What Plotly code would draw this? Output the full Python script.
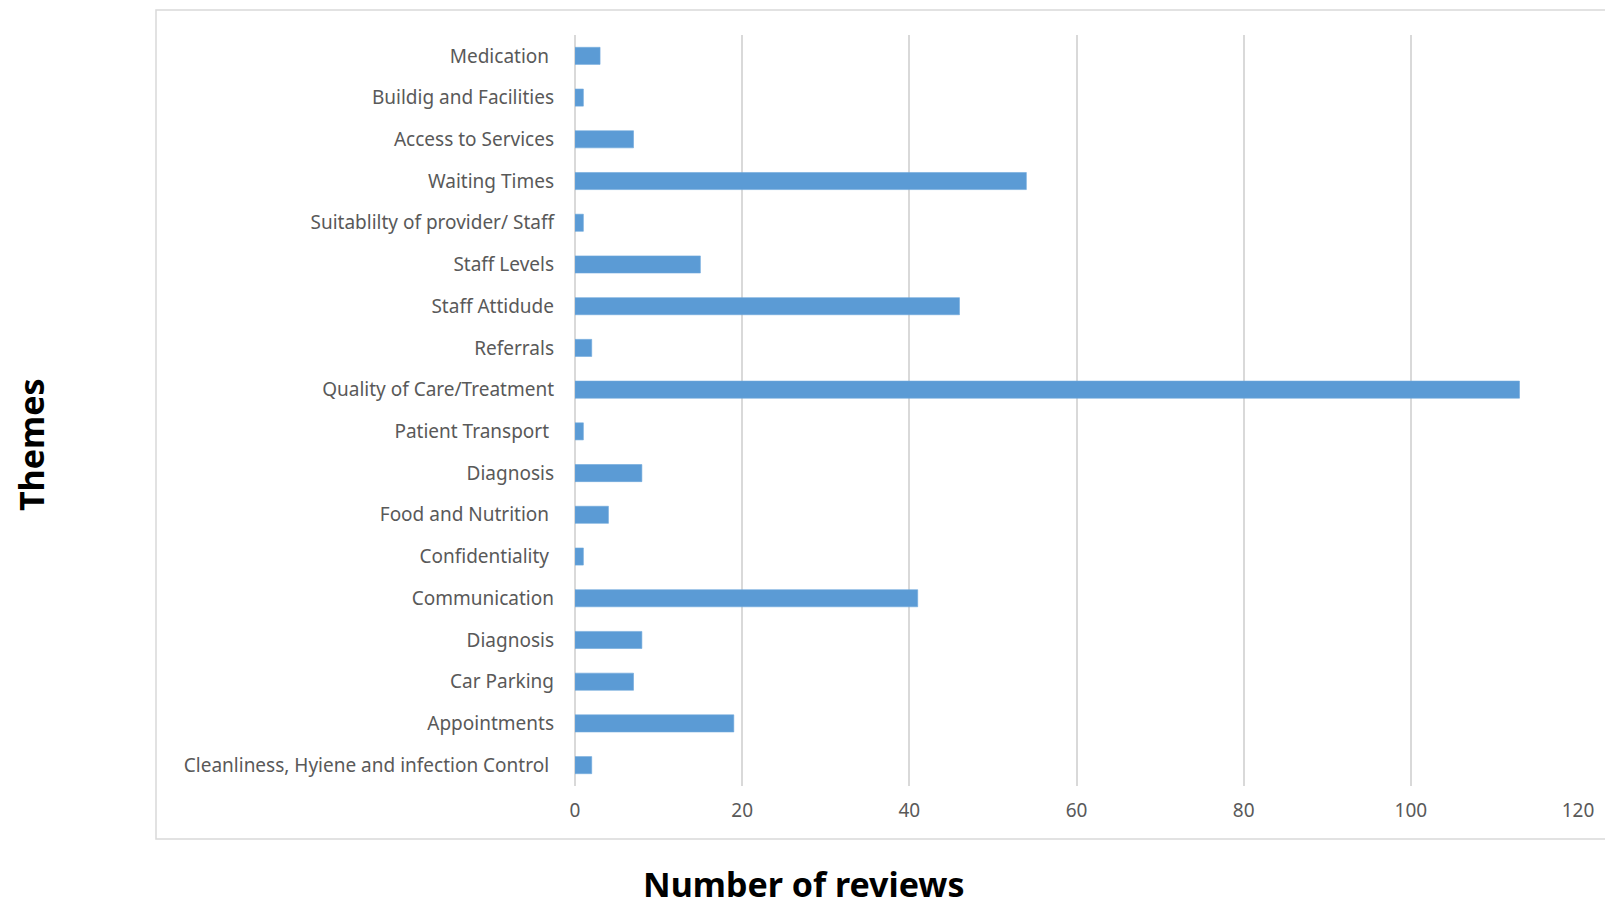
import plotly.graph_objects as go

# Review themes, listed top to bottom
themes = [
    "Medication\u00a0",
    "Buildig and Facilities",
    "Access to Services",
    "Waiting Times",
    "Suitablilty of provider/ Staff",
    "Staff Levels",
    "Staff Attidude",
    "Referrals",
    "Quality of Care/Treatment",
    "Patient Transport\u00a0",
    "Diagnosis",
    "Food and Nutrition\u00a0",
    "Confidentiality\u00a0",
    "Communication",
    "Diagnosis",
    "Car Parking",
    "Appointments",
    "Cleanliness, Hyiene and infection Control\u00a0",
]
reviews = [3, 1, 7, 54, 1, 15, 46, 2, 113, 1, 8, 4, 1, 41, 8, 7, 19, 2]
x_ticks = [0, 20, 40, 60, 80, 100, 120]

W, H = 1605, 906
L, R, T, B = 575, 27, 35, 120

# numeric positions so repeated theme names keep their own rows
pos = list(range(len(themes)))

fig = go.Figure(
    go.Bar(
        x=reviews,
        y=pos,
        orientation="h",
        marker=dict(color="#5B9BD5", line=dict(color="#6FA8DC", width=0.6)),
        hoverinfo="x+text",
        text=themes,
        textposition="none",
    )
)

font_lbl = dict(family="Noto Sans, Open Sans, sans-serif", size=19, color="#595959")

fig.update_layout(
    width=W,
    height=H,
    margin=dict(l=L, r=R, t=T, b=B),
    paper_bgcolor="white",
    plot_bgcolor="white",
    bargap=0.59,
    showlegend=False,
    font=font_lbl,
)

fig.update_xaxes(
    range=[0, 120],
    tickvals=x_ticks,
    showgrid=True,
    gridcolor="#D9D9D9",
    gridwidth=1.5,
    zeroline=True,
    zerolinecolor="#D9D9D9",
    zerolinewidth=1.5,
    showline=False,
    tickfont=font_lbl,
    ticklabelstandoff=11,
    fixedrange=True,
)

fig.update_yaxes(
    range=[len(themes) - 0.5, -0.5],
    tickvals=pos,
    ticktext=themes,
    showgrid=False,
    zeroline=False,
    showline=False,
    tickfont=font_lbl,
    ticklabelstandoff=20,
    fixedrange=True,
)

pw, ph = W - L - R, H - T - B


def px_x(x):
    return (x - L) / pw


def px_y(y):
    return (H - B - y) / ph


# outer chart frame
fig.add_shape(
    type="rect",
    xref="paper", yref="paper",
    x0=px_x(156), x1=px_x(1620), y0=px_y(839), y1=px_y(10),
    line=dict(color="#D9D9D9", width=1.5),
    fillcolor="rgba(0,0,0,0)",
    layer="below",
)

title_font = dict(family="Noto Sans, Open Sans, sans-serif", size=34, color="black")
fig.add_annotation(
    text="<b>Number of reviews</b>",
    xref="paper", yref="paper",
    x=px_x(803), y=px_y(884),
    showarrow=False, font=title_font,
    xanchor="center", yanchor="middle",
)
fig.add_annotation(
    text="<b>Themes</b>",
    xref="paper", yref="paper",
    x=px_x(31), y=px_y(445),
    showarrow=False, font=title_font, textangle=-90,
    xanchor="center", yanchor="middle",
)

fig.write_html("out.html")
